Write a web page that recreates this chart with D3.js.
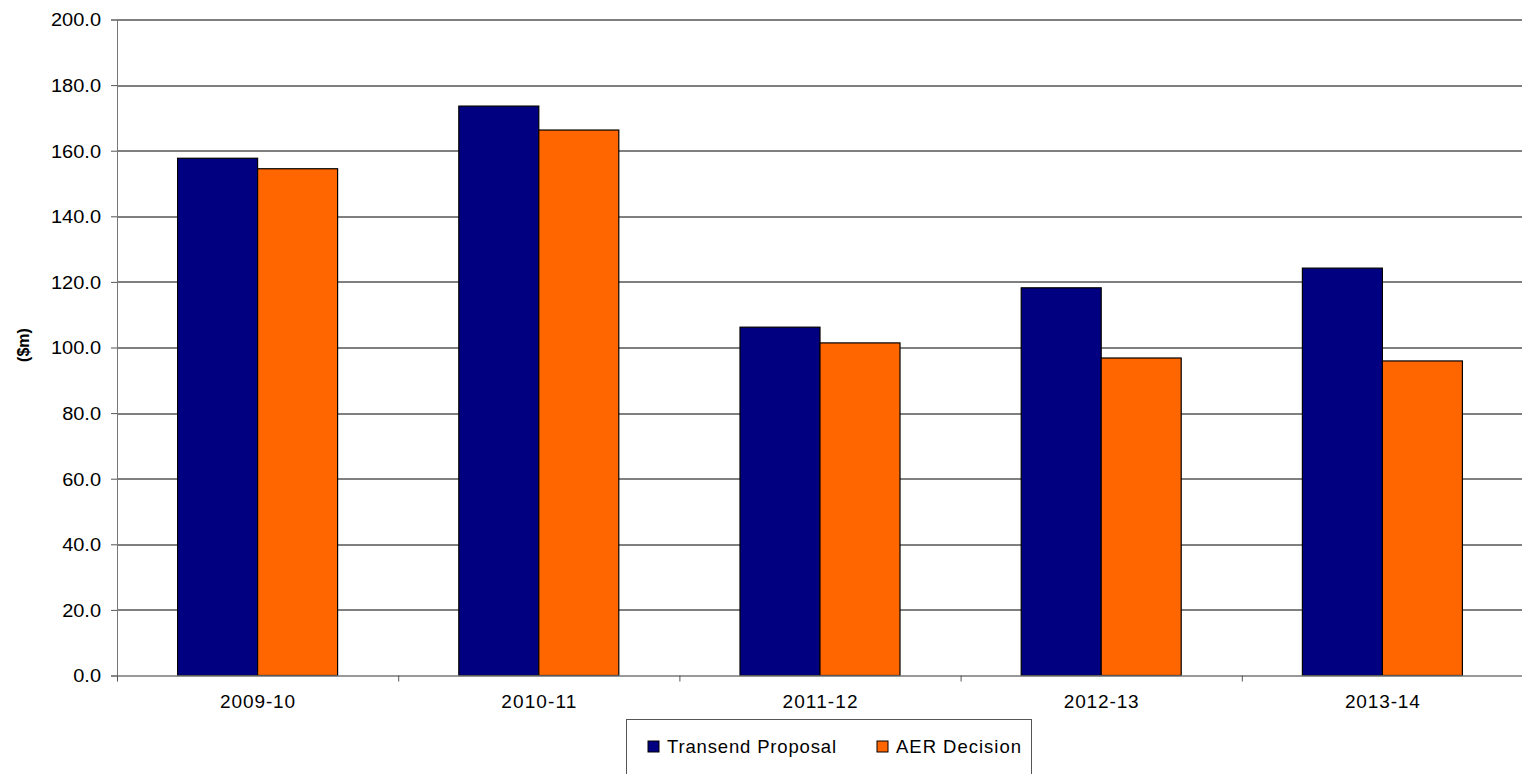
<!DOCTYPE html>
<html>
<head>
<meta charset="utf-8">
<script src="https://cdn.jsdelivr.net/npm/d3@7"></script>
<style>
  body { margin: 0; background: #fff; overflow: hidden; }
  text { font-family: "Liberation Sans", Arial, sans-serif; fill: #000; }
</style>
</head>
<body>
<div id="chart-area"></div>
<script>
// chart data
const years = ["2009-10", "2010-11", "2011-12", "2012-13", "2013-14"];
const seriesNames = ["Transend Proposal", "AER Decision"];
const transendProposal = [157.7, 173.6, 106.2, 118.2, 124.2];
const aerDecision = [154.5, 166.3, 101.4, 96.8, 95.9];
const yTicks = [0, 20, 40, 60, 80, 100, 120, 140, 160, 180, 200];
const colors = ["#000080", "#FF6600"];

const W = 1522, H = 774;
const margin = { top: 19.5, right: -1, bottom: 98.5, left: 117 };
const width = W - margin.left - margin.right,
  height = H - margin.top - margin.bottom;

const svg = d3.select("#chart-area").append("svg")
  .attr("width", W)
  .attr("height", H);

const g = svg.append("g")
  .attr("transform", `translate(${margin.left}, ${margin.top})`);

const x = d3.scaleBand().domain(years).range([0, width]);
const y = d3.scaleLinear().domain([0, 200]).range([height, 0]);
const barW = 80;

// gridlines
g.append("g")
  .selectAll("line")
  .data(yTicks.filter(d => d > 0))
  .enter()
  .append("line")
  .attr("x1", 0)
  .attr("x2", width)
  .attr("y1", d => Math.round(y(d)) + 0.5)
  .attr("y2", d => Math.round(y(d)) + 0.5)
  .attr("stroke", "#000")
  .attr("stroke-width", 1);

// bars
const groups = g.selectAll(".year")
  .data(years)
  .enter()
  .append("g")
  .attr("class", "year");

[transendProposal, aerDecision].forEach((vals, si) => {
  groups.append("rect")
    .attr("x", (d, i) => x(d) + x.bandwidth() / 2 - barW + si * barW)
    .attr("y", (d, i) => y(vals[i]))
    .attr("width", barW)
    .attr("height", (d, i) => y(0) - y(vals[i]))
    .attr("fill", colors[si])
    .attr("stroke", "#000")
    .attr("stroke-width", 1.2);
});

// y axis
const yAxis = d3.axisLeft(y)
  .tickValues(yTicks)
  .tickFormat(d3.format(".1f"))
  .tickSize(6)
  .tickPadding(9);
const ya = g.append("g").call(yAxis);
ya.select(".domain").attr("stroke", "#777");
ya.selectAll(".tick line").attr("stroke", "#555");
ya.selectAll("text")
  .style("font-size", "18.5px")
  .attr("dy", "0.35em")
  .attr("transform", "scale(1.08,1)")
  .attr("x", -16 / 1.08);

// x axis
const xAxis = d3.axisBottom(x).tickSize(0).tickPadding(19);
const xa = g.append("g")
  .attr("transform", `translate(0, ${height})`)
  .call(xAxis);
xa.select(".domain").attr("stroke", "#777").attr("stroke-width", 1.5);
xa.selectAll("text")
  .style("font-size", "19px")
  .attr("textLength", 75);
// category separators
xa.selectAll(".sep")
  .data(years)
  .enter()
  .append("line")
  .attr("x1", d => x(d) + 0.5)
  .attr("x2", d => x(d) + 0.5)
  .attr("y1", 0)
  .attr("y2", 6)
  .attr("stroke", "#555");

// y label
svg.append("text")
  .attr("transform", "translate(29, 345) rotate(-90)")
  .attr("text-anchor", "middle")
  .style("font-size", "16px")
  .style("font-weight", "bold")
  .text("($m)");

// legend
const legend = svg.append("g").attr("transform", "translate(626.5, 719.5)");
legend.append("rect")
  .attr("width", 405)
  .attr("height", 80)
  .attr("fill", "#fff")
  .attr("stroke", "#555");
const items = legend.selectAll(".item")
  .data(seriesNames)
  .enter()
  .append("g")
  .attr("transform", (d, i) => `translate(${i === 0 ? 21.5 : 250.5}, 21.5)`);
items.append("rect")
  .attr("width", 11)
  .attr("height", 11)
  .attr("fill", (d, i) => colors[i])
  .attr("stroke", "#000");
items.append("text")
  .attr("x", 19)
  .attr("y", 11.5)
  .style("font-size", "18.5px")
  .attr("textLength", (d, i) => i === 0 ? 169 : 125)
  .text(d => d);
</script>
</body>
</html>
